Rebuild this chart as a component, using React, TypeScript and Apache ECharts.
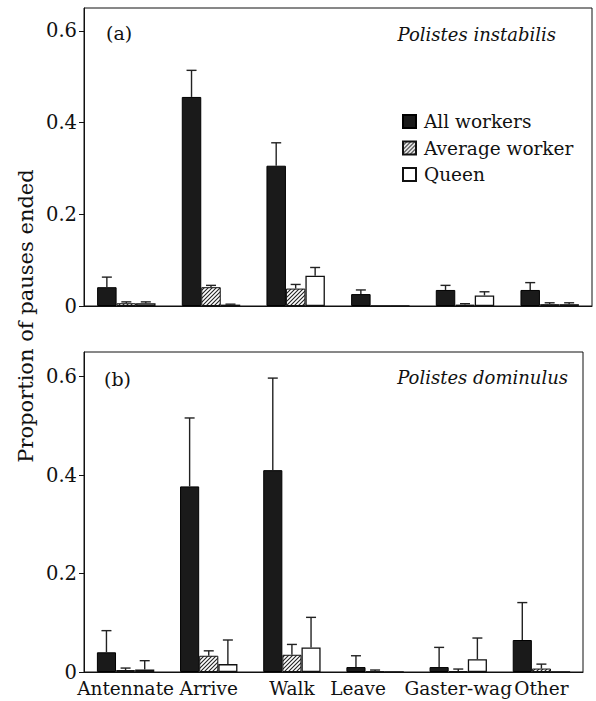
import React, { useEffect, useRef } from 'react';
import * as echarts from 'echarts';

const categories = ['Antennate', 'Arrive', 'Walk', 'Leave', 'Gaster-wag', 'Other'];
const seriesNames = ['All workers', 'Average worker', 'Queen'];
const yTickValues = [0, 0.2, 0.4, 0.6];

// (a) Polistes instabilis
const instAll = [0.041, 0.456, 0.306, 0.026, 0.035, 0.035];
const instAllErr = [0.022, 0.058, 0.05, 0.009, 0.01, 0.016];
const instAvg = [0.006, 0.041, 0.038, 0, 0.003, 0.004];
const instAvgErr = [0.003, 0.004, 0.009, 0, 0.002, 0.003];
const instQueen = [0.006, 0.003, 0.066, 0, 0.023, 0.004];
const instQueenErr = [0.003, 0.001, 0.018, 0, 0.008, 0.003];

// (b) Polistes dominulus
const domAll = [0.04, 0.377, 0.41, 0.01, 0.01, 0.065];
const domAllErr = [0.044, 0.139, 0.187, 0.023, 0.04, 0.076];
const domAvg = [0.004, 0.033, 0.035, 0.001, 0.002, 0.007];
const domAvgErr = [0.004, 0.01, 0.021, 0.003, 0.004, 0.009];
const domQueen = [0.005, 0.016, 0.05, 0, 0.026, 0];
const domQueenErr = [0.018, 0.049, 0.061, 0, 0.043, 0];

const FONT = '"DejaVu Serif", serif';
const CAT_GAP = 0.31;

export default function App() {
  const ref = useRef<HTMLDivElement>(null);
  useEffect(() => {
    document.body.style.margin = '0';
    if (!ref.current) return;
    const chart = echarts.init(ref.current, null, { renderer: 'svg' });

    const hatch = document.createElement('canvas');
    hatch.width = 4;
    hatch.height = 4;
    const ctx = hatch.getContext('2d')!;
    ctx.fillStyle = '#ffffff';
    ctx.fillRect(0, 0, 4, 4);
    ctx.strokeStyle = '#222222';
    ctx.lineWidth = 1.1;
    ctx.beginPath();
    ctx.moveTo(0, 4);
    ctx.lineTo(4, 0);
    ctx.moveTo(-1, 1);
    ctx.lineTo(1, -1);
    ctx.moveTo(3, 5);
    ctx.lineTo(5, 3);
    ctx.stroke();
    const hatchColor: any = { image: hatch, repeat: 'repeat', imageWidth: 4, imageHeight: 4 };

    const styles = [
      { color: '#1a1a1a', borderColor: '#000', borderWidth: 1 },
      { color: hatchColor, borderColor: '#111', borderWidth: 1 },
      { color: '#ffffff', borderColor: '#111', borderWidth: 1.3 },
    ];

    const panels = [
      { vals: [instAll, instAvg, instQueen], errs: [instAllErr, instAvgErr, instQueenErr] },
      { vals: [domAll, domAvg, domQueen], errs: [domAllErr, domAvgErr, domQueenErr] },
    ];

    const series: any[] = [];
    panels.forEach((p, pi) => {
      p.vals.forEach((v, si) => {
        series.push({
          type: 'bar',
          name: seriesNames[si],
          xAxisIndex: pi,
          yAxisIndex: pi,
          data: v,
          barGap: '0%',
          barCategoryGap: CAT_GAP * 100 + '%',
          itemStyle: styles[si],
          emphasis: { disabled: true },
        });
      });
      const errData: number[][] = [];
      p.vals.forEach((v, si) => {
        v.forEach((val, ci) => {
          errData.push([ci, si, val, p.errs[si][ci]]);
        });
      });
      series.push({
        type: 'custom',
        xAxisIndex: pi,
        yAxisIndex: pi,
        z: 5,
        encode: { x: 0, y: 2 },
        data: errData,
        renderItem: (params: any, api: any) => {
          const ci = api.value(0);
          const si = api.value(1);
          const v = api.value(2);
          const e = api.value(3);
          if (!(e > 0)) return { type: 'group', children: [] };
          const band = api.size([1, 0])[0];
          const bw = (band * (1 - CAT_GAP)) / 3;
          const base = api.coord([ci, v]);
          const top = api.coord([ci, v + e]);
          const x = base[0] + (si - 1) * bw;
          const st = { stroke: '#222', lineWidth: 1.4 };
          return {
            type: 'group',
            children: [
              { type: 'line', shape: { x1: x, y1: base[1], x2: x, y2: top[1] }, style: st },
              { type: 'line', shape: { x1: x - 5, y1: top[1], x2: x + 5, y2: top[1] }, style: st },
            ],
          };
        },
      });
    });

    const yAxisBase = (idx: number) => ({
      type: 'value',
      gridIndex: idx,
      min: 0,
      max: 0.65,
      splitLine: { show: false },
      axisLine: { show: true, lineStyle: { color: '#111', width: 1 } },
      axisTick: { show: true, length: 5, customValues: yTickValues, lineStyle: { color: '#111' } },
      axisLabel: {
        customValues: yTickValues,
        margin: 7,
        color: '#111',
        fontFamily: FONT,
        fontSize: 19.5,
        formatter: (v: number) => (v === 0 ? '0' : v.toFixed(1)),
      },
    });

    const option: any = {
      animation: false,
      backgroundColor: '#ffffff',
      grid: [
        { left: 84, right: 4, top: 8, bottom: 395, show: true, borderColor: '#111', borderWidth: 1 },
        { left: 84, right: 13, top: 352, bottom: 29, show: true, borderColor: '#111', borderWidth: 1 },
      ],
      legend: {
        data: seriesNames,
        orient: 'vertical',
        left: 402,
        top: 112,
        padding: 0,
        itemWidth: 13,
        itemHeight: 13,
        itemGap: 7.5,
        icon: 'rect',
        selectedMode: false,
        textStyle: { fontFamily: FONT, fontSize: 18.5, color: '#111', padding: [0, 0, 0, 3] },
      },
      xAxis: [
        {
          type: 'category',
          gridIndex: 0,
          data: categories,
          axisLine: { show: true, lineStyle: { color: '#111' } },
          axisTick: { show: false },
          axisLabel: { show: false },
        },
        {
          type: 'category',
          gridIndex: 1,
          data: categories.map((c) =>
            c === 'Leave' ? { value: c, textStyle: { padding: [0, 34, 0, 0] } } : c
          ),
          axisLine: { show: true, lineStyle: { color: '#111' } },
          axisTick: { show: false },
          axisLabel: { color: '#111', fontFamily: FONT, fontSize: 18.5, margin: 7, interval: 0 },
        },
      ],
      yAxis: [yAxisBase(0), yAxisBase(1)],
      series,
      graphic: [
        {
          type: 'text',
          x: 26,
          y: 316,
          rotation: Math.PI / 2,
          style: {
            text: 'Proportion of pauses ended',
            fontFamily: FONT,
            fontSize: 21,
            fill: '#111',
            align: 'center',
            verticalAlign: 'middle',
          },
        },
        {
          type: 'text',
          x: 106,
          y: 33,
          style: { text: '(a)', fontFamily: FONT, fontSize: 19, fill: '#111', align: 'left', verticalAlign: 'middle' },
        },
        {
          type: 'text',
          x: 104,
          y: 379,
          style: { text: '(b)', fontFamily: FONT, fontSize: 19, fill: '#111', align: 'left', verticalAlign: 'middle' },
        },
        {
          type: 'text',
          x: 556,
          y: 34,
          style: {
            text: 'Polistes instabilis',
            fontFamily: FONT,
            fontStyle: 'italic',
            fontSize: 18,
            fill: '#111',
            align: 'right',
            verticalAlign: 'middle',
          },
        },
        {
          type: 'text',
          x: 568,
          y: 377,
          style: {
            text: 'Polistes dominulus',
            fontFamily: FONT,
            fontStyle: 'italic',
            fontSize: 18,
            fill: '#111',
            align: 'right',
            verticalAlign: 'middle',
          },
        },
      ],
    };
    chart.setOption(option);
    return () => chart.dispose();
  }, []);
  return <div ref={ref} style={{ width: 596, height: 701 }} />;
}
